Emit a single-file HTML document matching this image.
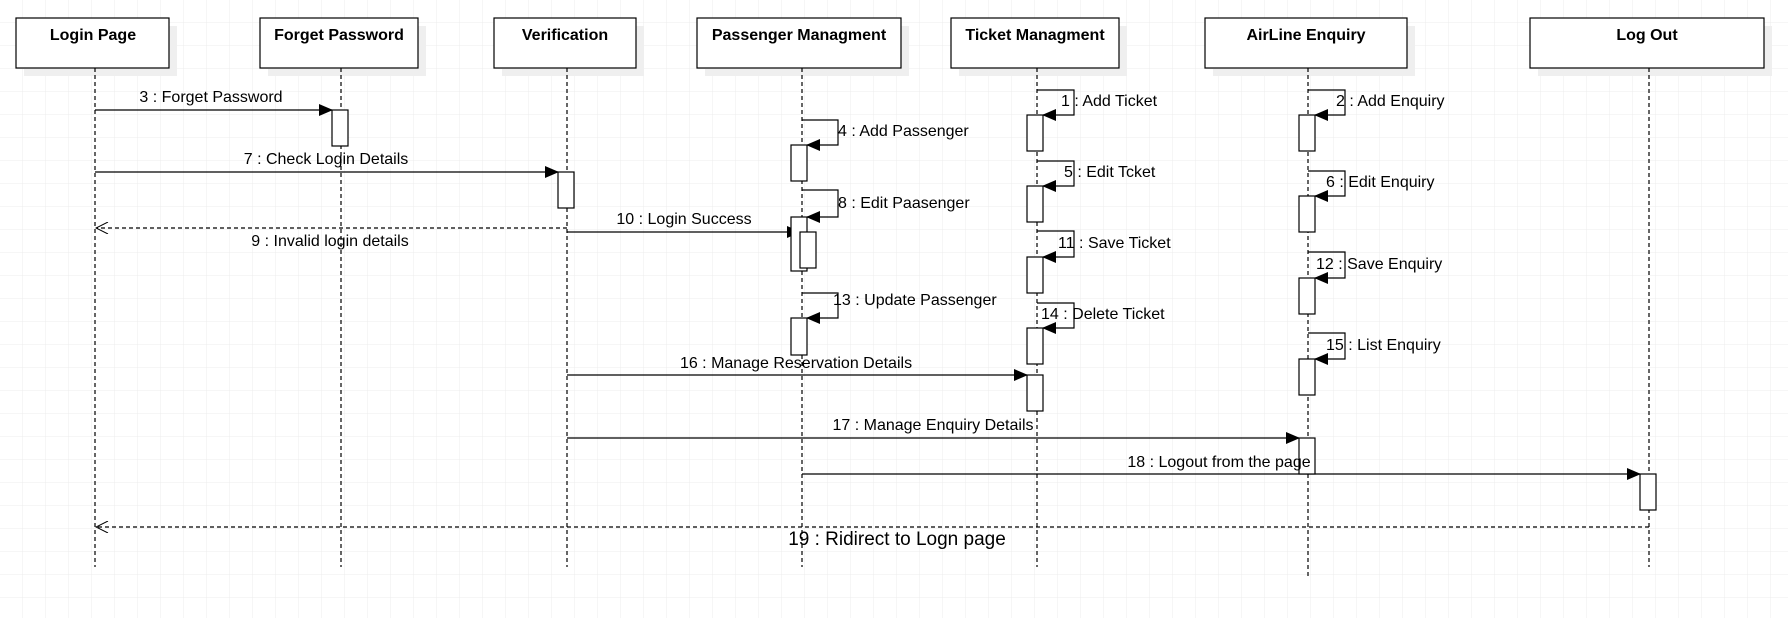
<!DOCTYPE html>
<html><head><meta charset="utf-8"><style>
html,body{margin:0;padding:0;background:#fff}
svg{display:block}
text{font-family:"Liberation Sans",sans-serif;font-size:16px;fill:#000}
.t{font-weight:bold;text-anchor:middle}
</style></head><body>
<svg width="1788" height="618" viewBox="0 0 1788 618" xmlns="http://www.w3.org/2000/svg">
<defs>
<pattern id="g" width="23" height="23" patternUnits="userSpaceOnUse"><path d="M23 0V23H0" fill="none" stroke="#ececec" stroke-width="1"/></pattern>
<marker id="a" markerWidth="14" markerHeight="12" refX="13" refY="6" orient="auto" markerUnits="userSpaceOnUse"><path d="M0,0L14,6L0,12z" fill="#000"/></marker>
<marker id="o" markerWidth="14" markerHeight="12" refX="13" refY="6" orient="auto" markerUnits="userSpaceOnUse"><path d="M1,0L13,6L1,12" fill="none" stroke="#000"/></marker>
</defs>
<rect width="1788" height="618" fill="url(#g)"/>
<g fill="#efefef">
<rect x="24" y="26" width="153" height="50"/><rect x="268" y="26" width="158" height="50"/><rect x="502" y="26" width="142" height="50"/><rect x="705" y="26" width="204" height="50"/><rect x="959" y="26" width="168" height="50"/><rect x="1213" y="26" width="202" height="50"/><rect x="1538" y="26" width="234" height="50"/>
</g>
<g fill="#fff" stroke="#000" stroke-width="1.2">
<rect x="16" y="18" width="153" height="50"/><rect x="260" y="18" width="158" height="50"/><rect x="494" y="18" width="142" height="50"/><rect x="697" y="18" width="204" height="50"/><rect x="951" y="18" width="168" height="50"/><rect x="1205" y="18" width="202" height="50"/><rect x="1530" y="18" width="234" height="50"/>
</g>
<text class="t" x="93" y="40">Login Page</text>
<text class="t" x="339" y="40">Forget Password</text>
<text class="t" x="565" y="40">Verification</text>
<text class="t" x="799" y="40">Passenger Managment</text>
<text class="t" x="1035" y="40">Ticket Managment</text>
<text class="t" x="1306" y="40">AirLine Enquiry</text>
<text class="t" x="1647" y="40">Log Out</text>
<g stroke="#000" stroke-dasharray="4,3" stroke-width="1.2">
<line x1="95" y1="68" x2="95" y2="567"/><line x1="341" y1="68" x2="341" y2="567"/><line x1="567" y1="68" x2="567" y2="567"/><line x1="802" y1="68" x2="802" y2="567"/><line x1="1037" y1="68" x2="1037" y2="567"/><line x1="1308" y1="68" x2="1308" y2="576"/><line x1="1649" y1="68" x2="1649" y2="567"/>
</g>
<g fill="none" stroke="#000" stroke-width="1.2">
<path d="M802 120H838V145H807" marker-end="url(#a)"/>
<path d="M802 190H838V217H807" marker-end="url(#a)"/>
<path d="M802 293H838V318H807" marker-end="url(#a)"/>
<path d="M1037 90H1074V115H1043" marker-end="url(#a)"/>
<path d="M1037 161H1074V186H1043" marker-end="url(#a)"/>
<path d="M1037 231H1074V257H1043" marker-end="url(#a)"/>
<path d="M1037 303H1074V328H1043" marker-end="url(#a)"/>
<path d="M1308 90H1345V115H1315" marker-end="url(#a)"/>
<path d="M1308 171H1345V196H1315" marker-end="url(#a)"/>
<path d="M1308 252H1345V278H1315" marker-end="url(#a)"/>
<path d="M1308 333H1345V359H1315" marker-end="url(#a)"/>
<line x1="95" y1="110" x2="332" y2="110" marker-end="url(#a)"/>
<line x1="95" y1="172" x2="558" y2="172" marker-end="url(#a)"/>
<line x1="567" y1="232" x2="800" y2="232" marker-end="url(#a)"/>
<line x1="567" y1="375" x2="1027" y2="375" marker-end="url(#a)"/>
<line x1="567" y1="438" x2="1299" y2="438" marker-end="url(#a)"/>
<line x1="802" y1="474" x2="1640" y2="474" marker-end="url(#a)"/>
<line x1="567" y1="228" x2="96" y2="228" stroke-dasharray="4,3" marker-end="url(#o)"/>
<line x1="1649" y1="527" x2="96" y2="527" stroke-dasharray="4,3" marker-end="url(#o)"/>
</g>
<g fill="#fff" stroke="#000" stroke-width="1.2">
<rect x="332" y="110" width="16" height="36"/>
<rect x="558" y="172" width="16" height="36"/>
<rect x="791" y="145" width="16" height="36"/>
<rect x="791" y="217" width="16" height="54"/>
<rect x="800" y="232" width="16" height="36"/>
<rect x="791" y="318" width="16" height="37"/>
<rect x="1027" y="115" width="16" height="36"/>
<rect x="1027" y="186" width="16" height="36"/>
<rect x="1027" y="257" width="16" height="36"/>
<rect x="1027" y="328" width="16" height="36"/>
<rect x="1027" y="375" width="16" height="36"/>
<rect x="1299" y="115" width="16" height="36"/>
<rect x="1299" y="196" width="16" height="36"/>
<rect x="1299" y="278" width="16" height="36"/>
<rect x="1299" y="359" width="16" height="36"/>
<rect x="1299" y="438" width="16" height="36"/>
<rect x="1640" y="474" width="16" height="36"/>
</g>
<text x="211" y="102" text-anchor="middle">3 : Forget Password</text>
<text x="326" y="164" text-anchor="middle">7 : Check Login Details</text>
<text x="330" y="246" text-anchor="middle">9 : Invalid login details</text>
<text x="684" y="224" text-anchor="middle">10 : Login Success</text>
<text x="838" y="136">4 : Add Passenger</text>
<text x="838" y="208">8 : Edit Paasenger</text>
<text x="833" y="305">13 : Update Passenger</text>
<text x="796" y="368" text-anchor="middle">16 : Manage Reservation Details</text>
<text x="933" y="430" text-anchor="middle">17 : Manage Enquiry Details</text>
<text x="1219" y="467" text-anchor="middle">18 : Logout from the page</text>
<text x="897" y="545" text-anchor="middle" style="font-size:19px">19 : Ridirect to Logn page</text>
<text x="1061" y="106">1 : Add Ticket</text>
<text x="1064" y="177">5 : Edit Tcket</text>
<text x="1058" y="248">11 : Save Ticket</text>
<text x="1041" y="319">14 : Delete Ticket</text>
<text x="1336" y="106">2 : Add Enquiry</text>
<text x="1326" y="187">6 : Edit Enquiry</text>
<text x="1316" y="269">12 : Save Enquiry</text>
<text x="1326" y="350">15 : List Enquiry</text>
</svg>
</body></html>
